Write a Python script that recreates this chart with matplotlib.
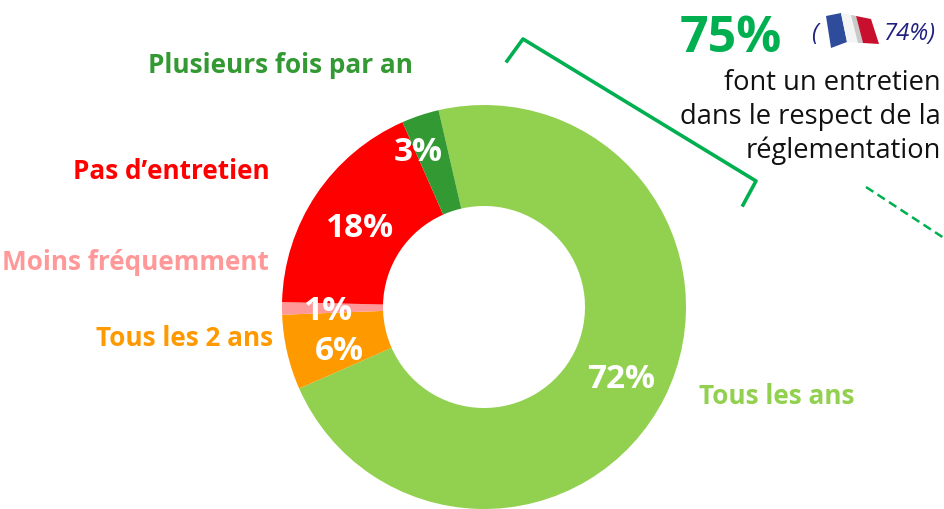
import matplotlib
matplotlib.use("Agg")
from matplotlib import pyplot as plt
from matplotlib.patches import Polygon

# data
#------------------------------------------------------------------------------
categories = ["Tous les ans", "Tous les 2 ans", "Moins fréquemment",
              "Pas d’entretien", "Plusieurs fois par an"]
values = [72, 6, 1, 18, 3]
colors = ["#92D050", "#FF9900", "#FF9999", "#FF0000", "#339933"]
total_label = "75%"
france_label = "74%)"
note_lines = ["font un entretien", "dans le respect de la", "réglementation"]
#------------------------------------------------------------------------------

W, H = 945, 509
GREEN = "#00B050"
NAVY = "#1F1F7F"
FONT = "Open Sans"


def py(y):
    # picture y (from the top) to axes y
    return H - y


def main():
    fig = plt.figure(figsize=(W / 100, H / 100), dpi=100)
    ax = fig.add_axes([0, 0, 1, 1])

    ax.pie(values, colors=colors, center=(484, py(307)), radius=202,
           startangle=103, counterclock=False,
           wedgeprops={"width": 101, "linewidth": 0})
    ax.set_xlim(0, W)
    ax.set_ylim(0, H)
    ax.set_aspect("equal")
    ax.axis("off")

    # labels around the ring
    label_pos = [(699, 396, "left"), (273, 338, "right"), (269, 263, "right"),
                 (270, 171, "right"), (413, 65, "right")]
    for cat, (x, y, ha), col in zip(categories, label_pos, colors):
        ax.text(x, py(y), cat, color=col, fontsize=18.8, fontweight="bold",
                family=FONT, ha=ha, va="center")

    # percentages on the ring
    pct_pos = [(621, 379), (339, 352), (329, 312), (360, 228), (418, 152)]
    for val, (x, y) in zip(values, pct_pos):
        ax.text(x, py(y), "{}%".format(val), color="white", fontsize=24,
                fontweight="bold", family=FONT, ha="center", va="center")

    # bracket and dashed leader
    ax.plot([507, 523, 756, 743], [py(61), py(39), py(181), py(205)],
            color=GREEN, lw=2.6, solid_joinstyle="round")
    ax.plot([866, 947], [py(187), py(240)], color=GREEN, lw=1.8,
            dashes=(3.5, 2))

    # top right note
    ax.text(680, py(52), total_label, color=GREEN, fontsize=36,
            fontweight="bold", family=FONT, ha="left", va="baseline")
    ax.text(811, py(40), "(", color=NAVY, fontsize=17.2, style="italic",
            family=FONT, ha="left", va="baseline")
    ax.text(936, py(40), france_label, color=NAVY, fontsize=17.2, style="italic",
            family=FONT, ha="right", va="baseline")
    for line, y in zip(note_lines, [90, 124, 158]):
        ax.text(941, py(y), line, color="#111111", fontsize=19.6, family=FONT,
                ha="right", va="baseline")

    # little french flag
    blue = [(826, 16), (841, 13), (847, 42), (831, 48)]
    white = [(841, 13), (856, 16), (863, 43), (847, 42)]
    fold = [(851, 15), (856, 16), (863, 43), (858, 43)]
    red = [(856, 16), (871, 19), (879, 44), (863, 43)]
    for pts, col in [(blue, "#2F4B9B"), (white, "#F4F4F4"), (fold, "#C9C9C9"),
                     (red, "#C8102E")]:
        ax.add_patch(Polygon([(x, py(y)) for x, y in pts], closed=True,
                             facecolor=col, edgecolor="none"))

    fig.savefig("out.png", dpi=100)


if __name__ == "__main__":
    main()
